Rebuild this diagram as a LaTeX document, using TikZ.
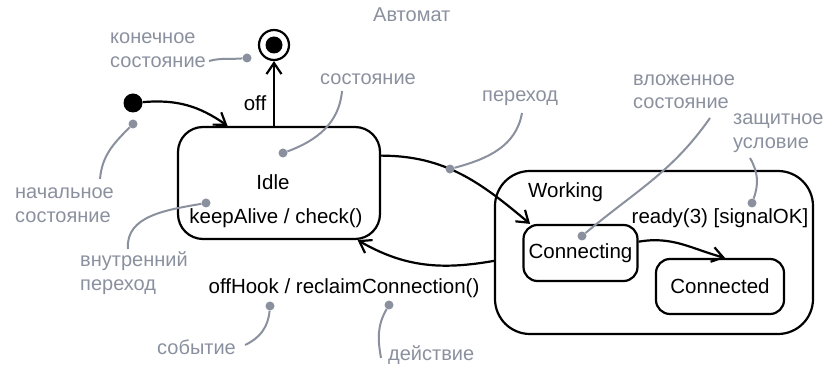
\documentclass[tikz,border=0pt]{standalone}
\usepackage{fontspec}
\setmainfont{Liberation Sans}
\usetikzlibrary{arrows.meta}
\definecolor{notegray}{RGB}{138,144,158}

\begin{document}
\begin{tikzpicture}[x=1pt,y=1pt,state/.style={draw,line width=2.2pt,rounded corners=#1,inner sep=0pt},arrow/.style={-{Straight Barb[length=11pt,width=15pt]},line width=2.2pt},label/.style={font=\fontsize{20.5}{24}\selectfont,inner sep=0pt},note/.style={text=notegray,font=\fontsize{20}{23.5}\selectfont,align=left,anchor=west,inner sep=0pt},notedot/.style={circle,fill=notegray,minimum size=9pt,inner sep=0pt},noteline/.style={draw=notegray,line width=2pt}]
\useasboundingbox (0,0) rectangle (825,367);
\node[note] (title) at (373,352) {Автомат};
% states
\node[circle,fill,minimum size=19pt,inner sep=0pt] (init) at (133,264) {};
\node[circle,draw,line width=2.2pt,minimum size=30pt,inner sep=0pt] (final) at (274,322) {};
\node[circle,fill,minimum size=17pt,inner sep=0pt] (finalcore) at (final) {};
\node[state=25pt,minimum width=202pt,minimum height=112pt] (idle) at (279,184) {};
\node[label] (idlename) at (273,185) {Idle};
\node[label] (idleint) at (276,149) {keepAlive / check()};
\node[state=35pt,minimum width=318pt,minimum height=163pt] (working) at (654,114.5) {};
\node[label,anchor=west] (workname) at (528,175) {Working};
\node[state=14pt,minimum width=114pt,minimum height=56pt] (connecting) at (580.5,114) {};
\node[label] (connectingname) at (580.5,114) {Connecting};
\node[state=14pt,minimum width=128pt,minimum height=55pt] (connected) at (720,80.5) {};
\node[label] (connectedname) at (720,80.5) {Connected};
% transitions
\draw[arrow] (init) to[out=5,in=145] (idle.132);
\draw[arrow] (idle.north -| final) -- (final);
\node[label] (offlbl) at (255,264) {off};
\draw[arrow] (idle.15) to[out=0,in=140] coordinate[pos=0.42] (trpt) (connecting.150);
\draw[arrow] (connecting.11) to[out=10,in=165] (connected.80);
\node[label] (readylbl) at (720,149) {ready(3) [signalOK]};
\draw[arrow] (working.183) to[out=190,in=-30] (idle.-36);
\node[label] (hooklbl) at (344,79) {offHook / reclaimConnection()};
% notes
\node[note] (nfinal) at (110,317) {конечное\\состояние};
\node[note] (nidle) at (320,288) {состояние};
\node[note] (ntrans) at (482,269) {переход};
\node[note] (nnested) at (633,275.5) {вложенное\\состояние};
\node[note] (nguard) at (733,234) {защитное\\условие};
\node[note] (ninit) at (15,162) {начальное\\состояние};
\node[note] (ninternal) at (80,94) {внутренний\\переход};
\node[note] (nevent) at (157,20) {событие};
\node[note] (naction) at (388,12) {действие};
\node[notedot] (dfinal) at (247,309) {};
\node[notedot] (dinit) at (133,243) {};
\node[notedot] (didle) at (283,214) {};
\node[notedot] (dinternal) at (206,164) {};
\node[notedot] (dtrans) at (trpt) {};
\node[notedot] (dnested) at (582,131) {};
\node[notedot] (dguard) at (752,164) {};
\node[notedot] (devent) at (270,61) {};
\node[notedot] (daction) at (389,62) {};
\coordinate (cfinal) at (209,306);
\coordinate (cidle) at (342,276);
\coordinate (ctrans) at (522,254);
\coordinate (cnested) at (710,249);
\coordinate (cguard) at (750,209);
\coordinate (cinit) at (100,188);
\coordinate (cinternal) at (128,118);
\coordinate (cevent) at (245,22);
\coordinate (caction) at (381,9);
\draw[noteline] (cfinal) to[out=15,in=185] (dfinal);
\draw[noteline] (cidle) to[out=-95,in=20] (didle);
\draw[noteline] (ctrans) to[out=-100,in=15] (dtrans);
\draw[noteline] (cnested) to[out=-125,in=40] (dnested);
\draw[noteline] (cguard) to[out=-60,in=70] (dguard);
\draw[noteline] (cinit) to[out=85,in=225] (dinit);
\draw[noteline] (cinternal) to[out=95,in=190] (dinternal);
\draw[noteline] (cevent) to[out=25,in=-95] (devent);
\draw[noteline] (caction) to[out=100,in=-120] (daction);
\end{tikzpicture}
\end{document}
